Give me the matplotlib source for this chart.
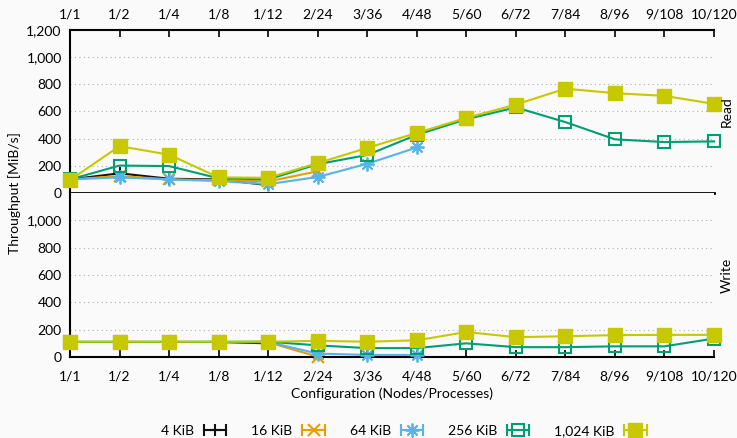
import numpy as np
import matplotlib
matplotlib.use("Agg")
import matplotlib.pyplot as plt
from matplotlib.lines import Line2D
from matplotlib.legend_handler import HandlerBase
from matplotlib.ticker import FuncFormatter

plt.rcParams['font.family'] = ['Lato', 'DejaVu Sans']

# ---- data ----
configs = ['1/1', '1/2', '1/4', '1/8', '1/12', '2/24', '3/36', '4/48',
           '5/60', '6/72', '7/84', '8/96', '9/108', '10/120']
sizes = ['4 KiB', '16 KiB', '64 KiB', '256 KiB', '1,024 KiB']

read_4k = [100, 145, 105, 100, 58]
read_16k = [100, 125, 100, 95, 85, 160]
read_64k = [100, 115, 100, 88, 65, 118, 215, 335]
read_256k = [100, 202, 198, 108, 100, 212, 280, 428, 543, 630, 522, 395, 375, 380]
read_1m = [95, 345, 282, 115, 112, 220, 332, 442, 553, 651, 768, 735, 715, 656]

write_4k = [110, 110, 110, 110, 100]
write_16k = [110, 110, 110, 110, 108, 2]
write_64k = [110, 110, 110, 110, 110, 25, 15, 15]
write_256k = [110, 110, 110, 110, 112, 85, 65, 65, 100, 72, 72, 78, 78, 135]
write_1m = [112, 112, 112, 112, 112, 118, 112, 122, 183, 145, 152, 160, 162, 162]

colors = ['#111111', '#E69F00', '#56B4E9', '#009E73', '#C8C800']
styles = [dict(marker='+', ms=9, mew=1.5, mfc='none'),
          dict(marker='x', ms=8, mew=1.5, mfc='none'),
          dict(marker=(8, 2, 0), ms=10, mew=1.3, mfc='none'),
          dict(marker='s', ms=8, mew=1.5, mfc='none'),
          dict(marker='s', ms=10, mew=1.0, mfc=None)]

read_data = [read_4k, read_16k, read_64k, read_256k, read_1m]
write_data = [write_4k, write_16k, write_64k, write_256k, write_1m]

bg = '#fafafa'
fs = 10
fig = plt.figure(figsize=(7.37, 4.38), dpi=100, facecolor=bg)
H = 438.0
W = 737.0
x0, x1 = 70 / W, 714 / W
ax1 = fig.add_axes([x0, (H - 193) / H, x1 - x0, (193 - 30) / H], facecolor=bg)
ax2 = fig.add_axes([x0, (H - 357) / H, x1 - x0, (357 - 193) / H], facecolor=bg)

handles = []
for ax, dataset in ((ax1, read_data), (ax2, write_data)):
    for vals, c, st in zip(dataset, colors, styles):
        xs = np.arange(len(vals))
        kw = dict(st)
        if kw['mfc'] is None:
            kw['mfc'] = c
        line, = ax.plot(xs, vals, color=c, lw=1.5, mec=c, clip_on=False, zorder=3, **kw)
        if ax is ax1:
            handles.append(line)

ax1.set_yticks(range(0, 1201, 200))
ax2.set_yticks(range(0, 1001, 200))

fmt = FuncFormatter(lambda v, p: f'{v:,.0f}')
for ax in (ax1, ax2):
    ax.set_xlim(0, len(configs) - 1)
    ax.set_ylim(0, 1200)
    ax.set_xticks(np.arange(len(configs)))
    ax.set_xticklabels(configs)
    ax.yaxis.set_major_formatter(fmt)
    ax.spines['right'].set_visible(False)
    ax.spines['left'].set_linewidth(1.5)
    ax.yaxis.grid(True, linestyle=(0, (1, 3)), color='#b0b0b0', lw=0.8)
    ax.set_axisbelow(True)
    ax.tick_params(axis='y', length=0, labelsize=fs, pad=6)

ax1.xaxis.tick_top()
ax1.tick_params(axis='x', direction='in', length=5, width=1.2, labelsize=fs, pad=7)
ax1.spines['bottom'].set_linewidth(2)
ax1.spines['top'].set_linewidth(1.5)

ax2.spines['top'].set_visible(False)
ax2.spines['bottom'].set_linewidth(1.5)
ax2.tick_params(axis='x', direction='in', length=5, width=1.2, labelsize=fs, pad=10)
ax2.set_xlabel('Configuration (Nodes/Processes)', fontsize=fs, labelpad=3)

ax1.text(1.02, 0.5, 'Read', rotation=90, transform=ax1.transAxes,
         va='center', ha='center', fontsize=fs)
ax2.text(1.02, 0.5, 'Write', rotation=90, transform=ax2.transAxes,
         va='center', ha='center', fontsize=fs)
fig.text(15 / W, (H - 193) / H, 'Throughput [MiB/s]', rotation=90,
         va='center', ha='center', fontsize=fs)


class ErrHandler(HandlerBase):
    def create_artists(self, legend, orig, xdescent, ydescent, width, height, fontsize, trans):
        y = height / 2 - ydescent
        a, b = -xdescent, width - xdescent
        c = orig.get_color()
        ln = Line2D([a, b], [y, y], color=c, lw=1.5)
        caps = Line2D([a, b], [y, y], ls='none', marker='|', ms=8, mew=1.5, color=c)
        mk = Line2D([(a + b) / 2], [y], ls='none', marker=orig.get_marker(),
                    ms=orig.get_markersize(), mew=orig.get_markeredgewidth(),
                    mfc=orig.get_markerfacecolor(), mec=c)
        for art in (ln, caps, mk):
            art.set_transform(trans)
        return [ln, caps, mk]


fig.legend(handles, sizes, handler_map={Line2D: ErrHandler()}, loc='center',
           bbox_to_anchor=(404 / W, 7 / H), ncol=5, frameon=False, markerfirst=False,
           handlelength=1.6, columnspacing=1.8, handletextpad=0.7, fontsize=fs)

fig.savefig('out.png', dpi=100, facecolor=bg)
